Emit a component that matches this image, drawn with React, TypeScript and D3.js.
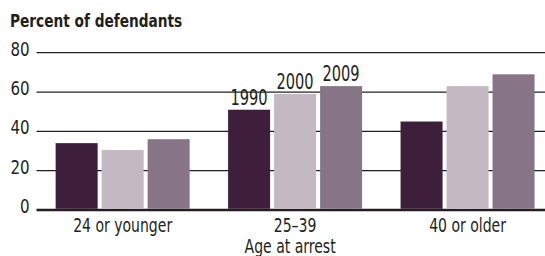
import React from 'react';
import * as d3 from 'd3';

const categories = ['24 or younger', '25–39', '40 or older'];
const years = ['1990', '2000', '2009'];
const values1990 = [34, 51, 45];
const values2000 = [30.5, 59, 63];
const values2009 = [36, 63, 69];
const yTicks = [0, 20, 40, 60, 80];
const colors = ['#3e1f3b', '#c4b9c3', '#877587'];

const font = '"DejaVu Sans Condensed", "DejaVu Sans", sans-serif';
const ink = '#231f20';

// squeezed text, to get close to the condensed face of the original
const Label: React.FC<{ x: number; y: number; size: number; sx: number; anchor?: string; bold?: boolean; children: React.ReactNode }> =
  ({ x, y, size, sx, anchor = 'start', bold = false, children }) => (
    <text transform={`translate(${x},${y}) scale(${sx},1)`} textAnchor={anchor} fontSize={size}
      fontWeight={bold ? 'bold' : 'normal'} fill={ink}>{children}</text>
  );

const App: React.FC = () => {
  const width = 545;
  const height = 256;
  const series = [values1990, values2000, values2009];

  const y = d3.scaleLinear().domain([0, 80]).range([210, 52.7]);
  const x0 = d3.scaleBand().domain(categories).range([45.3, 544.9]).paddingInner(0.223).paddingOuter(0.06);
  const x1 = d3.scaleBand().domain(years).range([0, x0.bandwidth()]).paddingInner(0.087);

  return (
    <svg width={width} height={height} style={{ position: 'absolute', left: 0, top: 0 }} fontFamily={font} fontStretch="condensed">
      <Label x={10} y={27} size={17.5} sx={0.87} bold>Percent of defendants</Label>

      {/* grid lines and y tick labels */}
      {yTicks.map(t => (
        <g key={t}>
          <line x1={36.5} x2={width} y1={y(t)} y2={y(t)} stroke={ink} strokeWidth={t === 0 ? 2.5 : 1.3} />
          <Label x={29.5} y={y(t) + 3} size={19} sx={0.88} anchor="end">{t}</Label>
        </g>
      ))}

      {/* bars */}
      {categories.map((c, i) => (
        <g key={c} transform={`translate(${x0(c)},0)`}>
          {years.map((yr, j) => (
            <rect key={yr} x={x1(yr)} y={y(series[j][i])} width={x1.bandwidth()}
              height={y(0) - y(series[j][i]) - 1.2} fill={colors[j]} />
          ))}
        </g>
      ))}

      {/* year labels over the middle group */}
      {years.map((yr, j) => {
        const c = categories[1];
        return (
          <Label key={yr} x={(x0(c) ?? 0) + (x1(yr) ?? 0) + x1.bandwidth() / 2} y={y(series[j][1]) - 5}
            size={20.5} sx={0.79} anchor="middle">{yr}</Label>
        );
      })}

      {/* category labels */}
      {categories.map(c => (
        <Label key={c} x={(x0(c) ?? 0) + x0.bandwidth() / 2} y={232} size={19.5} sx={0.8} anchor="middle">{c}</Label>
      ))}
      <Label x={(x0(categories[1]) ?? 0) + x0.bandwidth() / 2 - 5} y={253} size={19.5} sx={0.8} anchor="middle">Age at arrest</Label>
    </svg>
  );
};

export default App;
